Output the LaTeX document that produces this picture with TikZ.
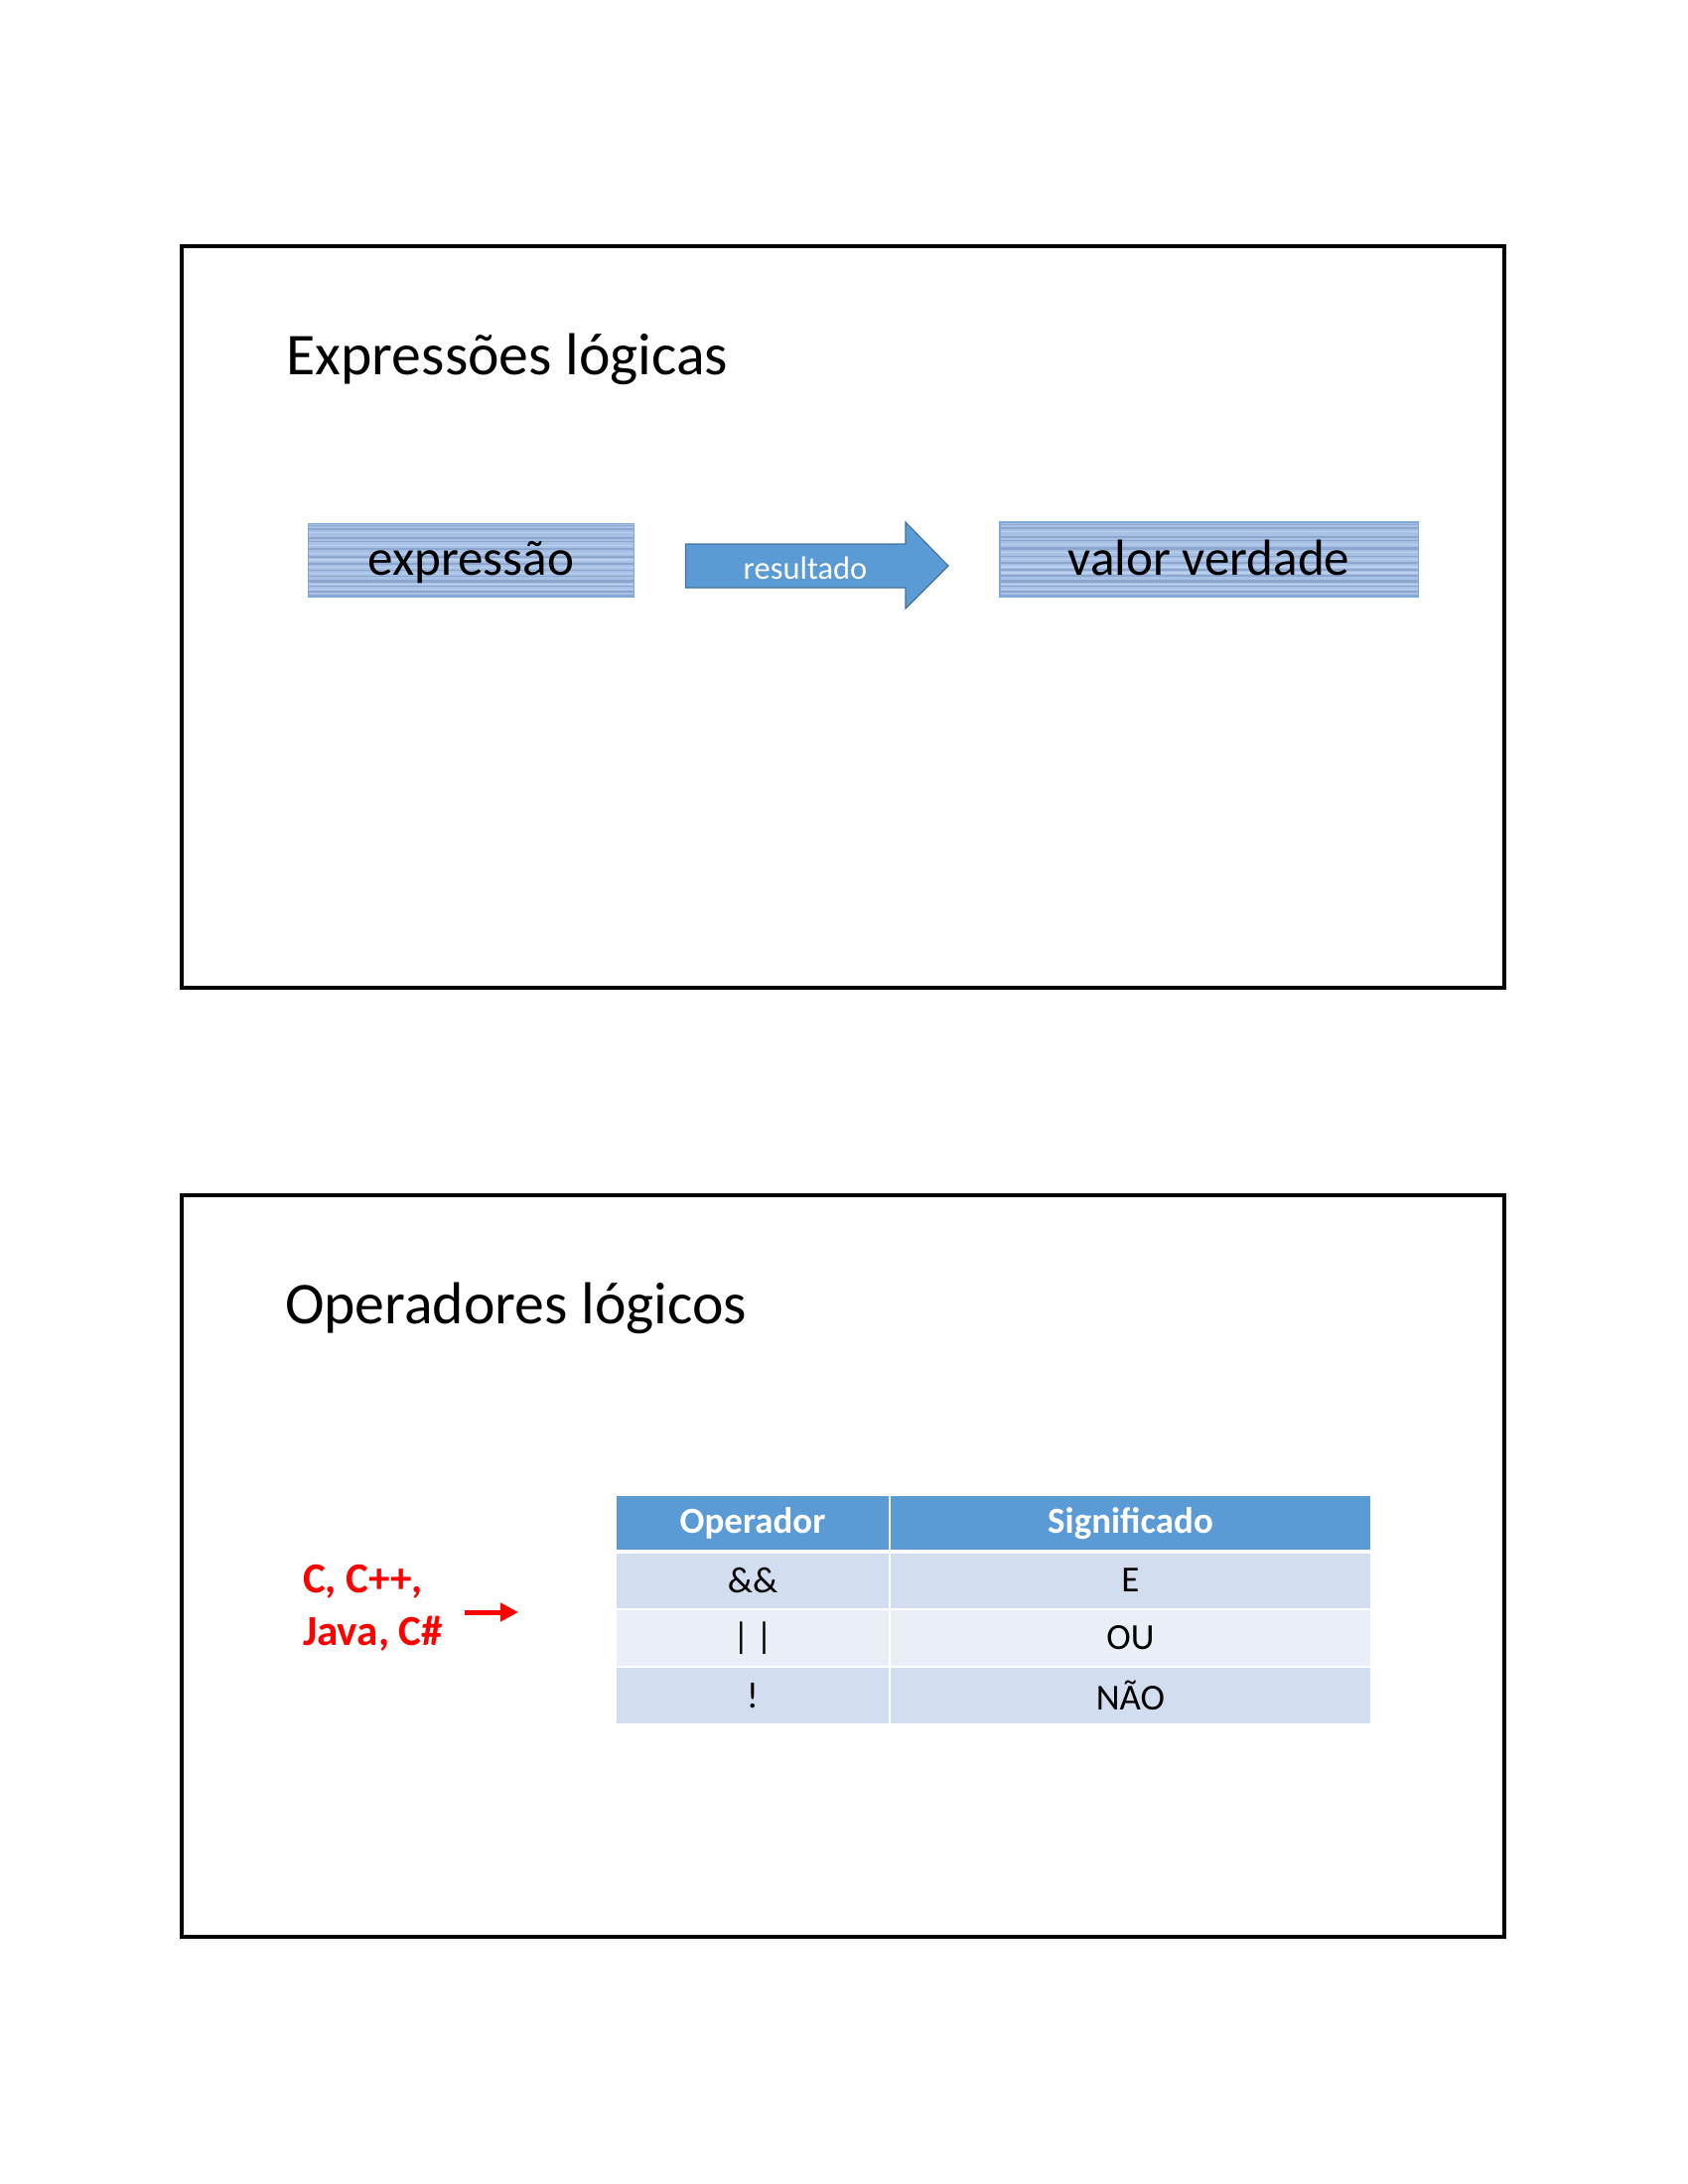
\documentclass[tikz,border=0pt]{standalone}
\usepackage{fontspec}
\setmainfont{Carlito}
\usetikzlibrary{arrows.meta,calc}
\definecolor{stripebase}{HTML}{A7C1E5}
\definecolor{stripedark}{HTML}{8CA6CD}
\definecolor{stripelight}{HTML}{BAD0EE}
\definecolor{stripeedge}{HTML}{7EA8DA}
\definecolor{arrowblue}{HTML}{5B9BD5}
\definecolor{arrowedge}{HTML}{41719C}
\definecolor{hdrblue}{HTML}{5B9BD5}
\definecolor{rowdark}{HTML}{D2DEEF}
\definecolor{rowlight}{HTML}{EAEFF7}
\definecolor{langred}{HTML}{FF0000}
\begin{document}
\begin{tikzpicture}[x=0.36pt,y=-0.36pt,
  slideframe/.style={draw=black,line width=1.1pt},
  slidetitle/.style={anchor=base west,inner sep=0pt,font=\fontsize{21.5}{26}\selectfont},
  stripebox/.style={draw=stripeedge,line width=0.4pt,fill=stripebase,inner sep=0pt,
    text height=11.5pt,text depth=0pt,
    font=\fontsize{18.4}{22}\selectfont,
    path picture={
      \foreach \f/\w in {0.03/0.5,0.08/0.8,0.20/0.6,0.25/0.4,0.35/0.9,0.46/0.5,0.55/0.8,0.64/0.5,0.72/0.4,0.79/0.9,0.86/0.5,0.93/0.7,0.985/0.6}
        \draw[stripedark,line width=\w pt]
          ($(path picture bounding box.north west)!\f!(path picture bounding box.south west)$) --
          ($(path picture bounding box.north east)!\f!(path picture bounding box.south east)$);
      \foreach \f in {0.13,0.30,0.41,0.50,0.60,0.68,0.83,0.90}
        \draw[stripelight,line width=0.5pt]
          ($(path picture bounding box.north west)!\f!(path picture bounding box.south west)$) --
          ($(path picture bounding box.north east)!\f!(path picture bounding box.south east)$);
    }},
  blockarrow/.style={fill=arrowblue,draw=arrowedge,line width=0.4pt},
  arrowlabel/.style={text=white,inner sep=0pt,font=\fontsize{11.7}{14}\selectfont},
  langtext/.style={anchor=base west,inner sep=0pt,text=langred,font=\bfseries\fontsize{15.5}{19}\selectfont},
  langarrow/.style={draw=langred,line width=1.8pt,-{Triangle[length=6.5pt,width=6.5pt]}},
  cell/.style={draw=white,line width=0.6pt,inner sep=0pt,outer sep=0pt,
    font=\fontsize{13.3}{16}\selectfont},
  hdrcell/.style={cell,fill=hdrblue,text=white,font=\bfseries\fontsize{13.3}{16}\selectfont,minimum height=20.5pt},
  darkcell/.style={cell,fill=rowdark,minimum height=20.9pt},
  lightcell/.style={cell,fill=rowlight,minimum height=20.9pt},
  colA/.style={minimum width=99.4pt},
  colB/.style={minimum width=174.6pt}
]
\useasboundingbox (0,0) rectangle (1700,2200);
\fill[white] (0,0) rectangle (1700,2200);

% ---------- slide 1 ----------
\draw[slideframe] (183,248) rectangle (1515,995);
\node[slidetitle] (title1) at (288,377) {Expressões lógicas};

\node[stripebox,minimum width=118.1pt,minimum height=26.6pt] (expr) at (474.5,564) {expressão};
\node[stripebox,minimum width=151.6pt,minimum height=27pt] (valor) at (1217.5,563.5) {valor verdade};

\draw[blockarrow] (690.5,548) -- (912,548) -- (912,526) -- (955,570) -- (912,613) -- (912,592) -- (690.5,592) -- cycle;
\node[arrowlabel] (res) at (811,572) {resultado};

% ---------- slide 2 ----------
\draw[slideframe] (183,1204) rectangle (1515,1951);
\node[slidetitle] (title2) at (286.5,1333) {Operadores lógicos};

\node[langtext] (lang1) at (304.5,1604) {C, C++,};
\node[langtext] (lang2) at (304.5,1657) {Java, C\#};
\coordinate (ra1) at (468,1624);
\coordinate (ra2) at (522,1624);
\draw[langarrow] (ra1) -- (ra2);

\node[hdrcell,colA] (h1) at (758,1534.5) {Operador};
\node[hdrcell,colB] (h2) at (1138.5,1534.5) {Significado};
\node[darkcell,colA] (a1) at (758,1592) {\&\&};
\node[darkcell,colB] (b1) at (1138.5,1592) {E};
\node[lightcell,colA] (a2) at (758,1650) {|\,|};
\node[lightcell,colB] (b2) at (1138.5,1650) {OU};
\node[darkcell,colA] (a3) at (758,1708) {!};
\node[darkcell,colB] (b3) at (1138.5,1708) {NÃO};
\draw[white,line width=1.1pt] (h1.south west) -- (h2.south east);
\end{tikzpicture}
\end{document}
